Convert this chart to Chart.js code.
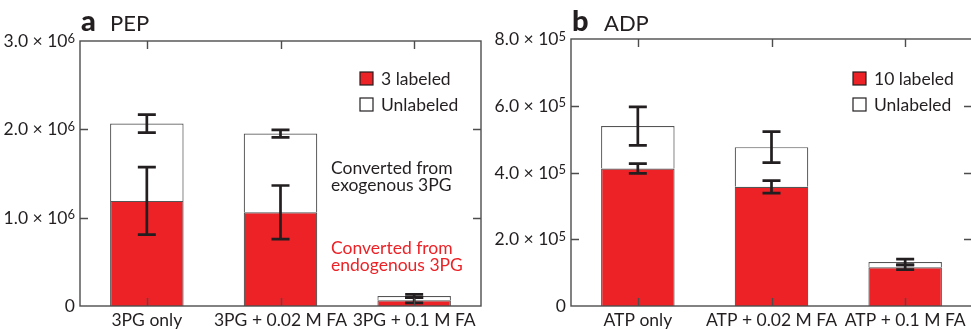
<!DOCTYPE html>
<html>
<head>
<meta charset="utf-8">
<script src="https://cdn.jsdelivr.net/npm/chart.js@4/dist/chart.umd.min.js"></script>
<style>
  html, body { margin: 0; padding: 0; background: #fff; }
  #wrap { position: relative; width: 971px; height: 329px; overflow: hidden; }
  canvas { position: absolute; top: 0; }
  #pep { left: 0; }
  #adp { left: 490px; }
</style>
</head>
<body>
<div id="wrap">
  <canvas id="pep" width="490" height="329"></canvas>
  <canvas id="adp" width="483" height="329"></canvas>
</div>
<script>
// panel a: PEP
var pepCategories = ['3PG only', '3PG + 0.02 M FA', '3PG + 0.1 M FA'];
var pepLabeled = [1.19e6, 1.06e6, 0.065e6];
var pepUnlabeled = [0.875e6, 0.892e6, 0.048e6];
var pepLabeledErr = [0.383e6, 0.304e6, 0.03e6];
var pepTotalErr = [0.102e6, 0.042e6, 0.018e6];
var pepTickValues = [0, 1e6, 2e6, 3e6];
var pepTickLabels = ['0', '1.0 \u00d7 10^6', '2.0 \u00d7 10^6', '3.0 \u00d7 10^6'];

// panel b: ADP
var adpCategories = ['ATP only', 'ATP + 0.02 M FA', 'ATP + 0.1 M FA'];
var adpLabeled = [4.12e5, 3.57e5, 1.16e5];
var adpUnlabeled = [1.27e5, 1.19e5, 0.16e5];
var adpLabeledErr = [0.145e5, 0.185e5, 0.07e5];
var adpTotalErr = [0.575e5, 0.465e5, 0.085e5];
var adpTickValues = [0, 2e5, 4e5, 6e5, 8e5];
var adpTickLabels = ['0', '2.0 \u00d7 10^5', '4.0 \u00d7 10^5', '6.0 \u00d7 10^5', '8.0 \u00d7 10^5'];

var RED = '#ec2227';
var INK = '#231f20';
var FRAME = '#4d4d4d';
var FONT = 'Lato, "Open Sans", sans-serif';
var FS = '17.5px ';

(function () {
  'use strict';

  function drawTickLabel(ctx, text, x, y) {
    var parts = text.split('^');
    ctx.textAlign = 'left';
    ctx.textBaseline = 'alphabetic';
    ctx.fillStyle = INK;
    ctx.font = FS + FONT;
    var w = ctx.measureText(parts[0]).width;
    var sw = 0;
    if (parts[1]) {
      ctx.font = '13px ' + FONT;
      sw = ctx.measureText(parts[1]).width;
    }
    var x0 = x - w - sw;
    ctx.font = FS + FONT;
    ctx.fillText(parts[0], x0, y + 6);
    if (parts[1]) {
      ctx.font = '13px ' + FONT;
      ctx.fillText(parts[1], x0 + w, y + 1.5);
    }
  }

  function drawErr(ctx, x, y0, y1) {
    var cap = 9;
    ctx.beginPath();
    ctx.moveTo(x, y0); ctx.lineTo(x, y1);
    ctx.moveTo(x - cap, y0); ctx.lineTo(x + cap, y0);
    ctx.moveTo(x - cap, y1); ctx.lineTo(x + cap, y1);
    ctx.stroke();
  }

  function decor(cfg) {
    return {
      id: 'decor',
      afterDatasetsDraw: function (chart) {
        var ctx = chart.ctx;
        var area = chart.chartArea;
        var xs = chart.scales.x;
        var ys = chart.scales.y;
        var labeled = chart.data.datasets[0].data;
        var unlabeled = chart.data.datasets[1].data;

        // error bars
        ctx.save();
        ctx.strokeStyle = INK;
        ctx.lineWidth = 2.7;
        ctx.lineCap = 'butt';
        labeled.forEach(function (v, i) {
          var x = xs.getPixelForValue(i);
          var tot = v + unlabeled[i];
          drawErr(ctx, x, ys.getPixelForValue(v + cfg.labeledErr[i]), ys.getPixelForValue(v - cfg.labeledErr[i]));
          drawErr(ctx, x, ys.getPixelForValue(tot + cfg.totalErr[i]), ys.getPixelForValue(tot - cfg.totalErr[i]));
        });
        ctx.restore();

        // frame + inward ticks
        ctx.save();
        ctx.strokeStyle = FRAME;
        ctx.lineWidth = 1.4;
        ctx.strokeRect(area.left, area.top, area.right - area.left, area.bottom - area.top);
        ctx.beginPath();
        var tl = 8;
        chart.data.labels.forEach(function (lab, i) {
          var x = Math.round(xs.getPixelForValue(i)) + 0.5;
          ctx.moveTo(x, area.top); ctx.lineTo(x, area.top + tl);
          ctx.moveTo(x, area.bottom); ctx.lineTo(x, area.bottom - tl);
        });
        cfg.tickValues.forEach(function (v) {
          if (v === ys.min || v === ys.max) return;
          var y = Math.round(ys.getPixelForValue(v)) + 0.5;
          ctx.moveTo(area.left, y); ctx.lineTo(area.left + tl, y);
          ctx.moveTo(area.right, y); ctx.lineTo(area.right - tl, y);
        });
        ctx.stroke();
        ctx.restore();

        // y tick labels
        ctx.save();
        cfg.tickValues.forEach(function (v, i) {
          drawTickLabel(ctx, cfg.tickLabels[i], area.left - 5, ys.getPixelForValue(v));
        });
        ctx.restore();

        // category labels
        ctx.save();
        ctx.fillStyle = INK;
        ctx.font = FS + FONT;
        ctx.textAlign = 'center';
        ctx.textBaseline = 'alphabetic';
        chart.data.labels.forEach(function (lab, i) {
          ctx.fillText(lab, xs.getPixelForValue(i), area.bottom + 20);
        });
        ctx.restore();

        // panel title
        ctx.save();
        ctx.fillStyle = INK;
        ctx.textAlign = 'left';
        ctx.textBaseline = 'alphabetic';
        ctx.font = '900 29px ' + FONT;
        ctx.fillText(cfg.letter, cfg.titleX, 31);
        ctx.font = '22px ' + FONT;
        ctx.fillText(cfg.name, cfg.nameX, 31);
        ctx.restore();

        // legend
        ctx.save();
        ctx.font = FS + FONT;
        ctx.textAlign = 'left';
        ctx.textBaseline = 'alphabetic';
        chart.data.datasets.forEach(function (ds, i) {
          var y = cfg.legendY + i * 26;
          ctx.fillStyle = ds.backgroundColor;
          ctx.fillRect(cfg.legendX, y, 13, 13);
          ctx.strokeStyle = INK;
          ctx.lineWidth = 1.2;
          ctx.strokeRect(cfg.legendX, y, 13, 13);
          ctx.fillStyle = INK;
          ctx.fillText(ds.label, cfg.legendX + 21, y + 13);
        });
        ctx.restore();

        // notes
        if (cfg.notes) {
          ctx.save();
          ctx.font = FS + FONT;
          ctx.textAlign = 'left';
          ctx.textBaseline = 'alphabetic';
          cfg.notes.forEach(function (n) {
            ctx.fillStyle = n.color;
            ctx.fillText(n.text, n.x, n.y);
          });
          ctx.restore();
        }
      }
    };
  }

  function makePanel(id, cfg) {
    var el = document.getElementById(id);
    return new Chart(el.getContext('2d'), {
      type: 'bar',
      data: {
        labels: cfg.categories,
        datasets: [
          { label: cfg.labeledName, data: cfg.labeled, backgroundColor: RED, borderColor: '#555', borderWidth: 1.2 },
          { label: 'Unlabeled', data: cfg.unlabeled, backgroundColor: '#ffffff', borderColor: '#555', borderWidth: 1.2 }
        ]
      },
      options: {
        responsive: false,
        animation: false,
        categoryPercentage: 1,
        barPercentage: 0.55,
        layout: { padding: cfg.padding },
        scales: {
          x: { stacked: true, display: false },
          y: { stacked: true, display: false, min: 0, max: cfg.tickValues[cfg.tickValues.length - 1] }
        },
        plugins: { legend: { display: false }, tooltip: { enabled: false } }
      },
      plugins: [decor(cfg)]
    });
  }

  makePanel('pep', {
    categories: pepCategories,
    labeled: pepLabeled,
    unlabeled: pepUnlabeled,
    labeledErr: pepLabeledErr,
    totalErr: pepTotalErr,
    tickValues: pepTickValues,
    tickLabels: pepTickLabels,
    labeledName: '3 labeled',
    letter: 'a', titleX: 81, name: 'PEP', nameX: 110,
    legendX: 360, legendY: 72,
    padding: { left: 80, right: 9, top: 41, bottom: 23 },
    notes: [
      { text: 'Converted from', x: 331, y: 173.5, color: INK },
      { text: 'exogenous 3PG', x: 331, y: 191, color: INK },
      { text: 'Converted from', x: 331, y: 253.5, color: RED },
      { text: 'endogenous 3PG', x: 331, y: 270.5, color: RED }
    ]
  });

  makePanel('adp', {
    categories: adpCategories,
    labeled: adpLabeled,
    unlabeled: adpUnlabeled,
    labeledErr: adpLabeledErr,
    totalErr: adpTotalErr,
    tickValues: adpTickValues,
    tickLabels: adpTickLabels,
    labeledName: '10 labeled',
    letter: 'b', titleX: 82, name: 'ADP', nameX: 114,
    legendX: 363, legendY: 72,
    padding: { left: 81, right: 1, top: 39, bottom: 23 }
  });
})();
</script>
</body>
</html>
